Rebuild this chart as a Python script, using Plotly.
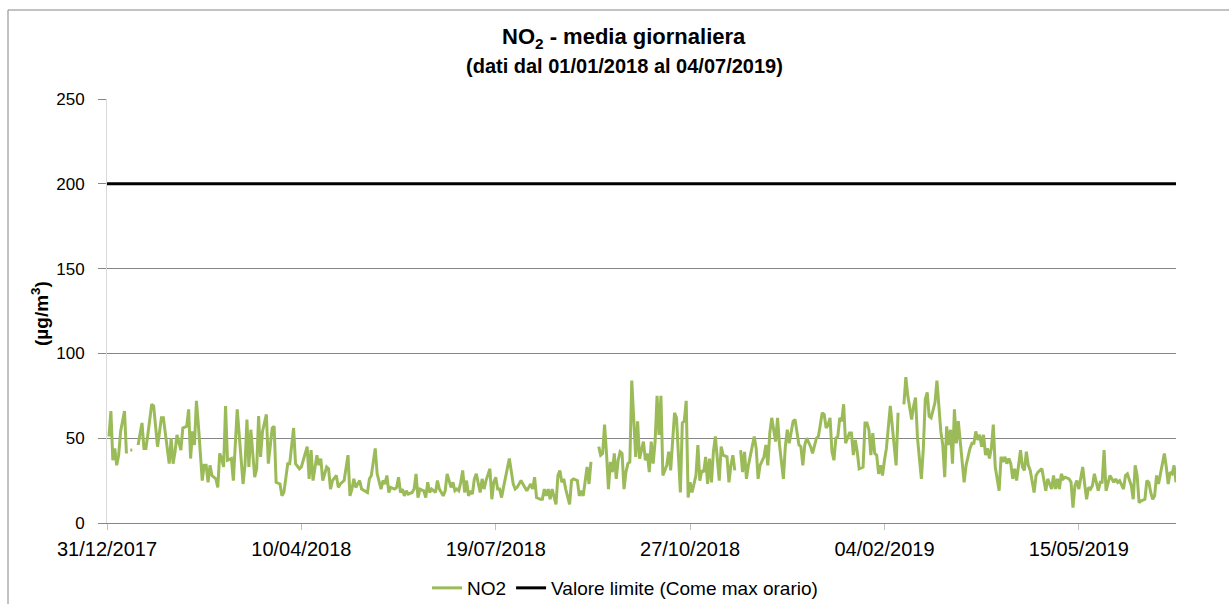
import pandas as pd
import plotly.graph_objects as go

# Asse temporale: giorni contati dal 31/12/2017
inizio = pd.Timestamp("2017-12-31")
fine = pd.Timestamp("2019-07-04")

giorno = [
    1, 2, 3, 4, 5, 6, 7, 9, 10, 11, 12, 13, 14, 16, 18, 19, 20, 21, 23, 24,
    26, 28, 29, 30, 32, 33, 34, 35, 36, 38, 39, 41, 42, 43, 44, 45, 46, 47, 49, 50,
    51, 52, 53, 54, 56, 57, 58, 59, 60, 61, 62, 64, 65, 67, 68, 70, 71, 72, 73, 74,
    76, 77, 78, 79, 80, 82, 83, 85, 86, 87, 89, 90, 91, 93, 94, 96, 97, 99, 100, 103,
    104, 105, 106, 108, 109, 110, 111, 113, 114, 115, 116, 118, 119, 120, 122, 124, 125, 126, 127, 128,
    130, 131, 134, 135, 136, 138, 139, 141, 142, 143, 144, 145, 146, 148, 149, 150, 151, 152, 153, 154,
    155, 157, 158, 159, 160, 161, 163, 164, 165, 166, 167, 169, 170, 171, 173, 174, 175, 177, 178, 179,
    180, 181, 182, 183, 184, 185, 186, 187, 188, 189, 190, 192, 193, 194, 195, 197, 198, 199, 200, 201,
    202, 203, 204, 206, 207, 209, 210, 211, 213, 215, 216, 218, 219, 220, 221, 223, 224, 225, 226, 227,
    228, 229, 230, 231, 232, 233, 234, 235, 236, 238, 239, 240, 242, 243, 244, 245, 247, 248, 249, 250,
    253, 254, 255, 256, 257, 258, 259, 260, 261, 262, 263, 264, 265, 266, 267, 268, 269, 270, 272, 273,
    274, 276, 277, 278, 279, 280, 281, 282, 283, 284, 285, 286, 288, 289, 290, 292, 293, 295, 296, 297,
    298, 299, 300, 301, 303, 304, 305, 306, 307, 308, 309, 310, 311, 312, 313, 315, 316, 317, 319, 320,
    321, 322, 323, 324, 326, 327, 328, 329, 330, 332, 333, 334, 335, 336, 338, 339, 340, 341, 342, 344,
    345, 346, 348, 349, 350, 351, 352, 353, 354, 356, 357, 358, 359, 360, 362, 363, 365, 366, 368, 369,
    370, 371, 372, 373, 374, 375, 376, 377, 378, 379, 380, 382, 383, 384, 385, 386, 387, 389, 390, 391,
    392, 393, 394, 395, 396, 397, 398, 399, 400, 401, 403, 404, 406, 407, 408, 410, 411, 412, 413, 414,
    415, 416, 417, 418, 419, 420, 421, 422, 423, 424, 426, 427, 428, 429, 430, 431, 432, 433, 434, 435,
    436, 437, 438, 440, 441, 442, 444, 445, 446, 447, 448, 449, 450, 451, 452, 453, 454, 455, 456, 457,
    459, 460, 461, 462, 463, 464, 465, 466, 467, 468, 470, 471, 472, 473, 474, 475, 477, 478, 479, 481,
    482, 483, 484, 485, 486, 487, 488, 489, 490, 491, 492, 493, 495, 496, 497, 498, 499, 500, 502, 503,
    504, 505, 506, 507, 508, 510, 511, 512, 513, 514, 515, 516, 518, 519, 520, 521, 523, 524, 525, 527,
    528, 529, 530, 531, 532, 534, 535, 536, 537, 538, 539, 540, 541, 543, 544, 545, 546, 547, 548, 549, 550,
]

# Media giornaliera NO2 (µg/m³); None = dato mancante
no2 = [
    51, 66, 37, 44, 34, 40, 54, 66, 41, None, 43, 43, None, 46, 59, 44, 44, 52, 70, 69,
    45, 62, 62, 53, 35, 50, 35, 42, 52, 43, 56, 57, 67, 38, 54, 46, 72, 58, 25, 34,
    34, 24, 34, 28, 26, 21, 41, 38, 33, 69, 37, 38, 25, 67, 52, 23, 34, 61, 33, 55,
    27, 32, 63, 39, 54, 64, 35, 56, 57, 24, 23, 16, 18, 35, 35, 56, 35, 32, 33, 45,
    26, 43, 25, 40, 34, 38, 25, 33, 32, 20, 25, 28, 21, 23, 25, 40, 16, 20, 26, 21,
    25, 20, 18, 26, 28, 44, 29, 20, 25, 23, 28, 18, 21, 20, 21, 27, 18, 20, 16, 19,
    17, 18, 20, 29, 15, 20, 19, 15, 24, 18, 20, 18, 25, 20, 16, 19, 29, 21, 24, 19,
    20, 19, 24, 31, 18, 25, 16, 19, 17, 26, 29, 18, 26, 20, 25, 32, 14, 24, 27, 20,
    20, 15, 21, 32, 38, 23, 20, 21, 25, 21, 19, 23, 20, 27, 15, 14, 14, 20, 16, 20,
    14, 20, 16, 11, 28, 31, 24, 26, 20, 11, 25, 26, 25, 16, 19, 16, 33, 23, 36, None,
    45, 40, 41, 58, 41, 20, 36, 30, 41, 26, 37, 42, 41, 20, 30, 35, 36, 84, 39, 60,
    38, 48, 37, 41, 30, 48, 35, 48, 75, 52, 75, 28, 34, 42, 31, 65, 62, 18, 59, 60,
    72, 15, 24, 18, 28, 46, 25, 31, 30, 39, 23, 38, 24, 42, 51, 25, 45, 40, 39, 24,
    34, 40, 31, None, 43, 30, 42, 26, 34, 47, 51, 44, 26, 34, 39, 46, 34, 53, 62, 48,
    62, 46, 26, 45, 55, 47, 53, 60, 61, 46, 45, 34, 46, 50, 45, 41, 50, 51, 65, 64,
    56, 58, 62, 42, 37, 50, 51, 62, 60, 70, 47, 53, 53, 40, 49, 42, 32, 33, 59, 59,
    55, 40, 53, 41, 40, 29, 34, 28, 37, 44, 69, 57, 34, 65, None, 70, 86, 75, 68, 61,
    69, 74, 50, 36, 26, 44, 73, 77, 63, 62, 71, 84, 66, 54, 46, 27, 57, 46, 55, 35,
    67, 47, 60, 36, 24, 34, 44, 47, 47, 54, 49, 52, 45, 52, 40, 44, 38, 44, 58, 33,
    19, 39, 36, 39, 35, 38, 35, 26, 32, 25, 43, 33, 31, 42, 34, 31, 18, 28, 30, 32,
    26, 19, 26, 23, 20, 28, 20, 26, 20, 29, 26, 27, 26, 24, 9, 22, 25, 20, 33, 23,
    14, 21, 20, 22, 29, 19, 24, 24, 43, 19, 24, 28, 24, 26, 24, 25, 20, 28, 29, 22,
    14, 34, 28, 12, 13, 14, 25, 24, 18, 14, 16, 28, 23, 34, 41, 33, 23, 30, 29, 34, 24,
]

valore_limite = 200

tick_date = ["2017-12-31", "2018-04-10", "2018-07-19", "2018-10-27", "2019-02-04", "2019-05-15"]
tick_y = [0, 50, 100, 150, 200, 250]

assert len(giorno) == len(no2)
date = inizio + pd.to_timedelta(giorno, unit="D")

# Dimensioni della pagina e dell'area del grafico (pixel)
W, H = 1229, 604
L, R, T, B = 107, 53, 99, 81
pw, ph = W - L - R, H - T - B


def px_x(p):
    return (p - L) / pw


def px_y(p):
    return (H - B - p) / ph


FONT = "Liberation Sans, Arial, sans-serif"
GRIGIO = "#868686"

fig = go.Figure()
fig.add_trace(go.Scatter(
    x=date, y=no2, mode="lines", name="NO2",
    line=dict(color="#9BBB59", width=3), connectgaps=False,
))
fig.add_trace(go.Scatter(
    x=[inizio, fine], y=[valore_limite, valore_limite], mode="lines",
    name="Valore limite (Come max orario)",
    line=dict(color="#000000", width=3),
))

fig.update_layout(
    width=W, height=H,
    margin=dict(l=L, r=R, t=T, b=B, pad=0, autoexpand=False),
    paper_bgcolor="white", plot_bgcolor="white",
    font=dict(family=FONT, color="#000000"),
    showlegend=True,
    legend=dict(
        orientation="h", x=px_x(625), xanchor="center",
        y=px_y(588), yanchor="middle",
        font=dict(size=19, family=FONT), bgcolor="rgba(0,0,0,0)",
        itemwidth=30,
    ),
    hovermode=False,
)

fig.update_xaxes(
    type="date", range=[inizio, fine],
    tickvals=tick_date, tickformat="%d/%m/%Y",
    tickfont=dict(size=20, family=FONT, color="#000000"),
    showgrid=False, zeroline=False,
    showline=True, linecolor=GRIGIO, linewidth=1,
    ticks="outside", ticklen=6, tickcolor="#bfbfbf", tickwidth=1,
    ticklabelstandoff=2,
    automargin=False,
)
fig.update_yaxes(
    range=[0, 250], tickvals=tick_y,
    tickfont=dict(size=17, family=FONT, color="#000000"),
    showgrid=True, gridcolor=GRIGIO, gridwidth=1,
    zeroline=False,
    showline=True, linecolor="#d9d9d9", linewidth=1,
    ticks="outside", ticklen=8, tickcolor=GRIGIO, tickwidth=1,
    ticklabelstandoff=10,
    automargin=False,
)

# Cornice del grafico
fig.add_shape(
    type="rect", xref="paper", yref="paper",
    x0=px_x(8), x1=px_x(W + 6), y0=px_y(H + 6), y1=px_y(10),
    line=dict(color=GRIGIO, width=1), fillcolor="rgba(0,0,0,0)", layer="below",
)

# Titoli
fig.add_annotation(
    text="<b>NO<sub>2</sub> - media giornaliera</b>",
    xref="paper", yref="paper", x=px_x(624), y=px_y(38),
    xanchor="center", yanchor="middle", showarrow=False,
    font=dict(size=22, family=FONT, color="#000000"),
)
fig.add_annotation(
    text="<b>(dati dal 01/01/2018 al 04/07/2019)</b>",
    xref="paper", yref="paper", x=px_x(624), y=px_y(66),
    xanchor="center", yanchor="middle", showarrow=False,
    font=dict(size=20, family=FONT, color="#000000"),
)
fig.add_annotation(
    text="<b>(µg/m<sup>3</sup>)</b>",
    xref="paper", yref="paper", x=px_x(40), y=px_y(314),
    xanchor="center", yanchor="middle", showarrow=False, textangle=-90,
    font=dict(size=19, family=FONT, color="#000000"),
)

fig.write_html("out.html")
